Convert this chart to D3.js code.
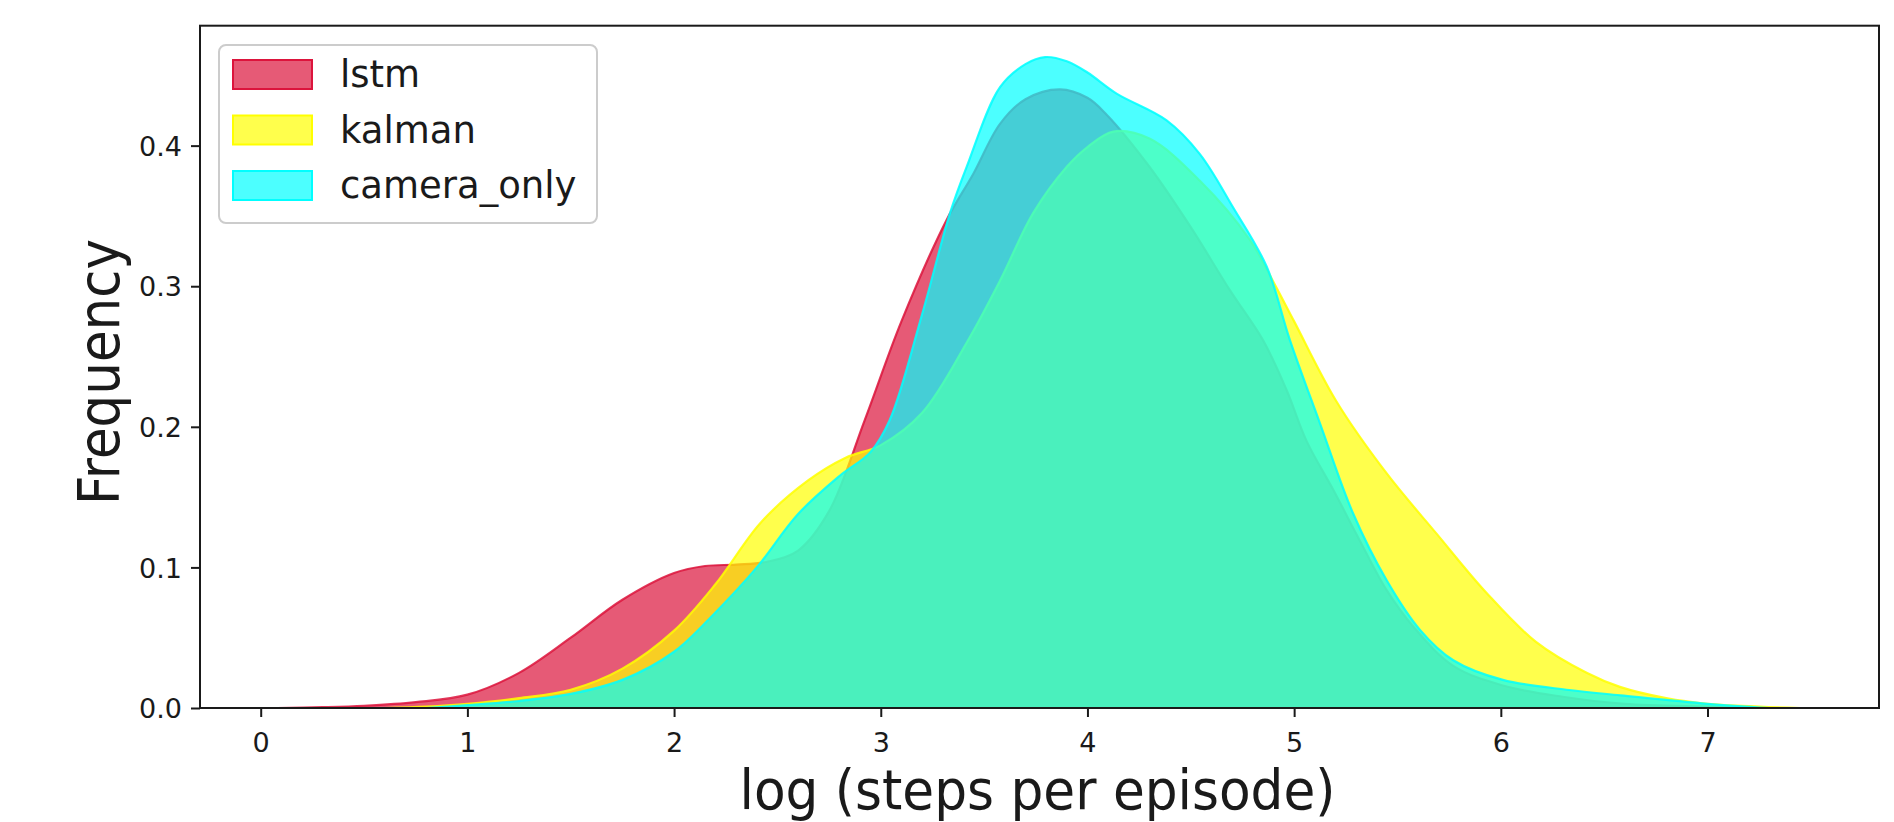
<!DOCTYPE html>
<html>
<head>
<meta charset="utf-8">
<script src="https://cdn.jsdelivr.net/npm/d3@7"></script>
<style>
  html, body { margin: 0; padding: 0; background: #fff; }
  svg { display: block; }
  text { font-family: "DejaVu Sans", sans-serif; fill: #1a1a1a; }
</style>
</head>
<body>
<svg id="chart" width="1894" height="822"></svg>
<script>
// ---------------- data ----------------
const seriesNames = ["lstm", "kalman", "camera_only"];
const seriesColors = ["#dc143c", "#ffff00", "#00ffff"];

const lstmX = [0.08, 0.3, 0.5, 0.75, 1.0, 1.25, 1.5, 1.75, 2.0, 2.15, 2.3, 2.45, 2.6, 2.75, 2.923, 3.1, 3.318, 3.448, 3.577, 3.7, 3.867, 4.0, 4.093, 4.3, 4.5, 4.69, 4.85, 4.964, 5.06, 5.19, 5.318, 5.447, 5.576, 5.77, 6.01, 6.3, 6.6, 7.0, 7.3];
const lstmY = [0, 0.0006, 0.0016, 0.0042, 0.0095, 0.025, 0.05, 0.077, 0.096, 0.101, 0.102, 0.104, 0.112, 0.14, 0.205, 0.275, 0.347, 0.38, 0.4155, 0.433, 0.44, 0.434, 0.422, 0.385, 0.342, 0.297, 0.2615, 0.226, 0.19, 0.155, 0.119, 0.084, 0.058, 0.03, 0.016, 0.008, 0.003, 0.001, 0];

const kalmanX = [0.6, 0.8, 1.0, 1.25, 1.5, 1.75, 2.0, 2.2, 2.42, 2.65, 2.83, 3.0, 3.2, 3.416, 3.577, 3.737, 3.9, 4.0, 4.125, 4.3, 4.544, 4.786, 4.9, 5.0, 5.205, 5.447, 5.689, 5.93, 6.17, 6.415, 6.576, 6.8, 7.0, 7.25, 7.45];
const kalmanY = [0, 0.001, 0.003, 0.007, 0.013, 0.028, 0.055, 0.088, 0.132, 0.162, 0.178, 0.187, 0.21, 0.26, 0.304, 0.352, 0.385, 0.399, 0.41, 0.405, 0.375, 0.333, 0.303, 0.275, 0.218, 0.167, 0.124, 0.082, 0.047, 0.025, 0.015, 0.007, 0.003, 0.001, 0];

const cameraX = [0.8, 1.0, 1.25, 1.5, 1.75, 2.0, 2.2, 2.4, 2.6, 2.8, 2.95, 3.044, 3.2, 3.335, 3.416, 3.577, 3.7, 3.795, 3.9, 4.0, 4.141, 4.383, 4.544, 4.705, 4.867, 4.98, 5.125, 5.285, 5.447, 5.61, 5.77, 6.01, 6.33, 6.58, 7.0, 7.3];
const cameraY = [0, 0.002, 0.005, 0.01, 0.02, 0.04, 0.068, 0.1, 0.138, 0.165, 0.182, 0.205, 0.28, 0.352, 0.385, 0.4416, 0.458, 0.463, 0.46, 0.452, 0.437, 0.418, 0.394, 0.356, 0.314, 0.2615, 0.2025, 0.1385, 0.091, 0.0554, 0.034, 0.02, 0.0128, 0.009, 0.003, 0];

const xTicks = [0, 1, 2, 3, 4, 5, 6, 7];
const yTicks = [0.0, 0.1, 0.2, 0.3, 0.4];
const xLabel = "log (steps per episode)";
const yLabel = "Frequency";

// ---------------- layout ----------------
const svg = d3.select("#chart");
const pLeft = 200, pRight = 1879, pTop = 25.7, pBottom = 708;

const x = d3.scaleLinear().domain([-0.2937, 7.8297]).range([pLeft, pRight]);
const y = d3.scaleLinear().domain([0, 0.4853]).range([pBottom, pTop]);

const series = [
  { name: seriesNames[0], color: seriesColors[0], xs: lstmX, ys: lstmY },
  { name: seriesNames[1], color: seriesColors[1], xs: kalmanX, ys: kalmanY },
  { name: seriesNames[2], color: seriesColors[2], xs: cameraX, ys: cameraY }
];

const curve = d3.curveCatmullRom.alpha(0.5);
const area = d3.area()
  .x(d => x(d[0])).y0(y(0)).y1(d => Math.min(y(0), y(d[1])))
  .curve(curve);
const line = d3.line()
  .x(d => x(d[0])).y(d => y(d[1]))
  .curve(curve);

const plot = svg.append("g");
series.forEach(s => {
  const pts = s.xs.map((v, i) => [v, s.ys[i]]);
  plot.append("path").datum(pts)
    .attr("d", area)
    .attr("fill", s.color)
    .attr("fill-opacity", 0.7)
    .attr("stroke", "none");
  plot.append("path").datum(pts)
    .attr("d", line)
    .attr("fill", "none")
    .attr("stroke", s.color)
    .attr("stroke-width", 2.2)
    .attr("stroke-opacity", 0.85);
});

// axes
const xAxis = svg.append("g").attr("transform", `translate(0,${pBottom})`)
  .call(d3.axisBottom(x).tickValues(xTicks).tickSize(9).tickFormat(d3.format("d")));
xAxis.select(".domain").remove();
xAxis.selectAll(".tick line").attr("stroke", "#1a1a1a").attr("stroke-width", 2);
xAxis.selectAll(".tick text").attr("y", 44).attr("dy", null)
  .style("font-size", "27px").style("font-family", "DejaVu Sans").attr("fill", "#1a1a1a");

const yAxis = svg.append("g").attr("transform", `translate(${pLeft},0)`)
  .call(d3.axisLeft(y).tickValues(yTicks).tickSize(9).tickPadding(9).tickFormat(d3.format(".1f")));
yAxis.select(".domain").remove();
yAxis.selectAll(".tick line").attr("stroke", "#1a1a1a").attr("stroke-width", 2);
yAxis.selectAll(".tick text").attr("dy", "0.36em")
  .style("font-size", "27px").style("font-family", "DejaVu Sans").attr("fill", "#1a1a1a");

// spines
svg.append("rect")
  .attr("x", pLeft).attr("y", pTop)
  .attr("width", pRight - pLeft).attr("height", pBottom - pTop)
  .attr("fill", "none").attr("stroke", "#1a1a1a").attr("stroke-width", 2);

// axis labels
svg.append("text")
  .attr("x", (pLeft + pRight) / 2 - 2).attr("y", 809)
  .attr("text-anchor", "middle")
  .attr("textLength", 596).attr("lengthAdjust", "spacingAndGlyphs")
  .style("font-size", "55px")
  .text(xLabel);

svg.append("text")
  .attr("transform", `translate(119,372) rotate(-90)`)
  .attr("text-anchor", "middle")
  .attr("textLength", 266).attr("lengthAdjust", "spacingAndGlyphs")
  .style("font-size", "57px")
  .text(yLabel);

// legend
const lg = svg.append("g");
lg.append("rect")
  .attr("x", 219).attr("y", 45).attr("width", 378).attr("height", 178)
  .attr("rx", 7).attr("ry", 7)
  .attr("fill", "#fff").attr("fill-opacity", 0.8)
  .attr("stroke", "#cccccc").attr("stroke-width", 2);
const baselines = [87, 142.5, 198];
series.forEach((s, i) => {
  lg.append("rect")
    .attr("x", 233).attr("y", baselines[i] - 27).attr("width", 79).attr("height", 29)
    .attr("fill", s.color).attr("fill-opacity", 0.7)
    .attr("stroke", s.color).attr("stroke-width", 2);
  lg.append("text")
    .attr("x", 340).attr("y", baselines[i])
    .style("font-size", "37px")
    .text(s.name);
});
</script>
</body>
</html>
